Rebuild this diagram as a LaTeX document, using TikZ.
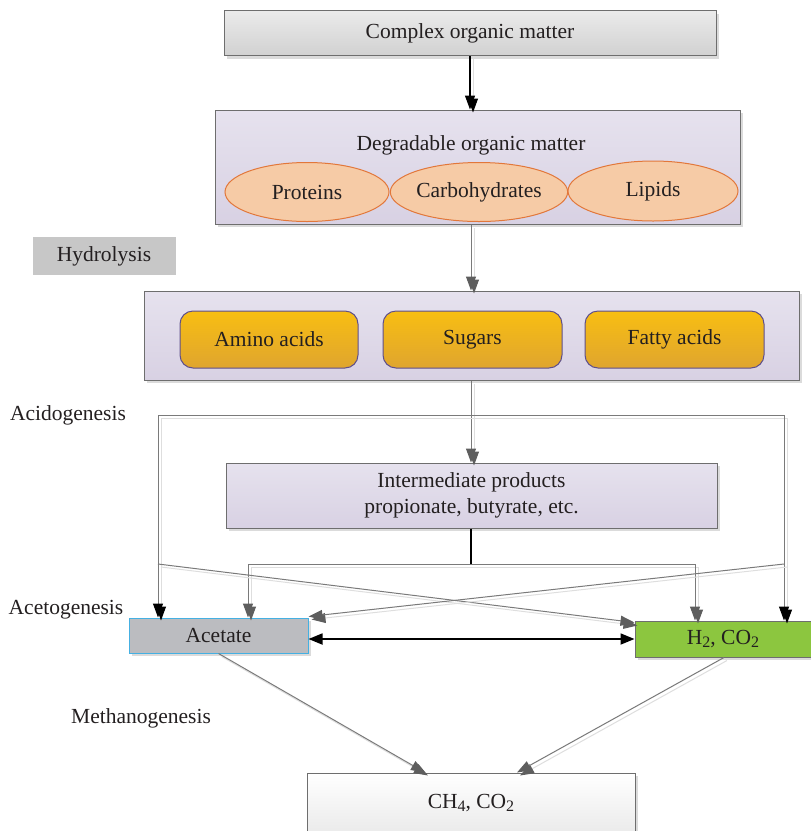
\documentclass[tikz,border=0pt]{standalone}
\usepackage{fontspec}
\setmainfont{Liberation Serif}
\usetikzlibrary{arrows.meta,shapes.geometric,shadows,calc}

\definecolor{txt}{HTML}{231F20}
\definecolor{edge}{HTML}{6E6E6E}
\definecolor{lavtop}{HTML}{E6E2EE}
\definecolor{lavbot}{HTML}{D8D1E3}
\definecolor{peach}{HTML}{F6CBA6}
\definecolor{peachedge}{HTML}{E2773A}
\definecolor{goldtop}{HTML}{F8BE12}
\definecolor{goldbot}{HTML}{DFA52F}
\definecolor{goldedge}{HTML}{5E4F8C}
\definecolor{acetfill}{HTML}{BBBCC0}
\definecolor{acetedge}{HTML}{45B0E2}
\definecolor{hfill}{HTML}{8CC63F}
\definecolor{conn}{HTML}{7A7A7A}
\definecolor{tipgray}{HTML}{5E5E5E}
\definecolor{connshade}{HTML}{DEDEDE}

\begin{document}
\begin{tikzpicture}[x=1pt,y=-1pt,
  font=\fontsize{21.5}{26}\selectfont, text=txt,
  shade/.style={drop shadow={shadow xshift=3pt,shadow yshift=-3pt,fill=black!20,opacity=0.7}},
  box/.style={draw=edge, line width=1pt, inner sep=0pt, align=center, shade},
  lavbox/.style={box, top color=lavtop, bottom color=lavbot},
  oval/.style={ellipse, draw=peachedge, line width=1pt, fill=peach, inner sep=0pt},
  goldbox/.style={draw=goldedge, line width=1pt, rounded corners=13pt, inner sep=0pt,
    top color=goldtop, bottom color=goldbot},
  stage/.style={inner sep=0pt},
  cshadow/.style={preaction={draw=connshade, line width=1pt,
    transform canvas={shift={(3pt,-3pt)}}}},
  wire/.style={draw=conn, line width=1pt, cshadow},
  graytip/.style={-{Triangle[length=14pt,width=10pt,color=tipgray]}},
  blacktip/.style={-{Triangle[length=14pt,width=10pt,color=black]}},
  sub/.style={},
]
\useasboundingbox (0,0) rectangle (811,831);

% main column axis
\coordinate (axis) at (471,0);

% top boxes
\node[box, top color=black!8, bottom color=black!18, minimum width=492pt, minimum height=45pt]
  (complex) at (470,33) {Complex organic matter};

\node[lavbox, minimum width=525pt, minimum height=114pt] (degr) at (477.5,167) {};
\node[stage] (degrtitle) at (471,145) {Degradable organic matter};
\node[oval, minimum width=164pt, minimum height=59pt] (prot) at (307,192) {Proteins};
\node[oval, minimum width=170pt, minimum height=59pt] (carb) at (479,192) {Carbohydrates};
\node[oval, minimum width=170pt, minimum height=60pt] (lipid) at (653,191) {Lipids};

\node[inner sep=0pt, fill=black!22, minimum width=143pt, minimum height=38pt]
  (hydro) at (104,256) {Hydrolysis};

\node[lavbox, minimum width=655pt, minimum height=89pt] (mono) at (471.5,335.5) {};
\node[goldbox, minimum width=178pt, minimum height=57pt] (amino) at (269,339.5) {Amino acids};
\node[goldbox, minimum width=179pt, minimum height=57pt] (sugar) at (472.5,339.5) {Sugars};
\node[goldbox, minimum width=179pt, minimum height=57pt] (fatty) at (674.5,339.5) {Fatty acids};

% stage labels
\node[stage] (acido) at (68,415) {Acidogenesis};
\node[stage] (aceto) at (66,610) {Acetogenesis};
\node[stage] (metha) at (141,718) {Methanogenesis};

\node[lavbox, minimum width=491pt, minimum height=65pt] (inter) at (471.5,495.5)
  {Intermediate products\\propionate, butyrate, etc.};

\node[box, draw=acetedge, fill=acetfill, minimum width=179pt, minimum height=35pt]
  (acetate) at (218.5,635.5) {Acetate};
\node[box, fill=hfill, minimum width=176pt, minimum height=36pt]
  (htwo) at (723,639) {H\raisebox{-0.35ex}{\fontsize{16}{16}\selectfont 2}, CO\raisebox{-0.35ex}{\fontsize{16}{16}\selectfont 2}};

\node[box, top color=white, bottom color=black!8, minimum width=328pt, minimum height=60pt]
  (ch4) at (471,803) {CH\raisebox{-0.35ex}{\fontsize{16}{16}\selectfont 4}, CO\raisebox{-0.35ex}{\fontsize{16}{16}\selectfont 2}};

% junction points
\coordinate (aL) at (158,415);
\coordinate (aR) at (784,415);
\coordinate (bL) at (158,564);
\coordinate (bR) at (784,564);
\coordinate (cL) at (248,564);
\coordinate (cR) at (695,564);
\coordinate (cM) at (471,564);

% connectors
\draw[line width=1.2pt, cshadow, blacktip] (complex.south) -- (complex.south |- degr.north);
\draw[wire, graytip] (axis |- degr.south) -- (axis |- mono.north);
\draw[wire, graytip] (axis |- mono.south) -- (axis |- inter.north);

\draw[wire] (aL) -- (aR);
\draw[wire, blacktip] (aL) -- (aL |- acetate.north);
\draw[wire, blacktip] (aR) -- (aR |- htwo.north);

\draw[line width=1.2pt] (axis |- inter.south) -- (cM);
\draw[wire] (cL) -- (cR);
\draw[wire, graytip] (cL) -- (cL |- acetate.north);
\draw[wire, graytip] (cR) -- (cR |- htwo.north);

\draw[wire, graytip] (bL) -- ($(htwo.north west)+(0,2)$);
\draw[wire, graytip] (bR) -- ($(acetate.north east)+(0,-1)$);

\draw[line width=1.8pt, {Triangle[length=14pt,width=11pt]}-{Triangle[length=14pt,width=11pt]}]
  (acetate.east |- htwo.west) -- (htwo.west);

\draw[wire, graytip] (acetate.south) -- ($(ch4.north)+(-46,0)$);
\draw[wire, graytip] ($(htwo.south)+(1,0)$) -- ($(ch4.north)+(46,0)$);
\end{tikzpicture}
\end{document}
